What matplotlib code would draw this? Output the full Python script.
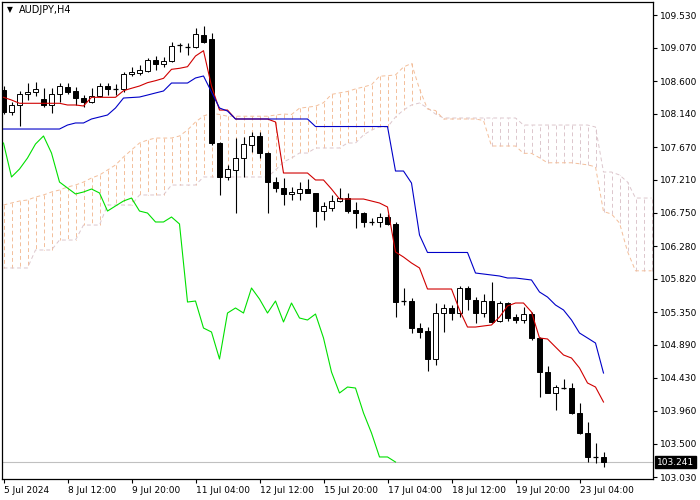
import matplotlib
matplotlib.use("Agg")
import matplotlib.pyplot as plt
import numpy as np

# ---------------- data ----------------
opens = [108.475, 108.165, 108.264, 108.419, 108.447, 108.348, 108.264, 108.419, 108.517, 108.461,
         108.362, 108.306, 108.390, 108.531, 108.489, 108.489, 108.700, 108.714, 108.742, 108.897,
         108.841, 108.883, 109.108, 109.080, 109.080, 109.249, 109.192, 107.729, 107.251, 107.349,
         107.518, 107.701, 107.828, 107.588, 107.180, 107.096, 107.012, 107.026, 107.082, 107.026,
         106.772, 106.815, 106.913, 106.955, 106.787, 106.744, 106.618, 106.618, 106.688, 106.590,
         105.506, 105.506, 105.126, 105.084, 104.690, 105.337, 105.408, 105.337, 105.689, 105.520,
         105.337, 105.506, 105.225, 105.478, 105.281, 105.239, 105.323, 104.986, 104.507, 104.212,
         104.282, 104.282, 103.931, 103.649, 103.312, 103.312]
highs = [108.531, 108.306, 108.461, 108.573, 108.587, 108.503, 108.503, 108.573, 108.573, 108.517,
         108.404, 108.503, 108.573, 108.573, 108.559, 108.728, 108.798, 108.827, 108.925, 108.953,
         108.939, 109.150, 109.136, 109.136, 109.347, 109.375, 109.277, 107.743, 107.420, 107.799,
         107.814, 107.884, 107.884, 107.603, 107.251, 107.237, 107.110, 107.180, 107.223, 107.026,
         106.899, 106.998, 107.096, 107.026, 106.899, 106.758, 106.674, 106.744, 106.730, 106.618,
         105.689, 105.548, 105.197, 105.140, 105.478, 105.464, 105.450, 105.717, 105.717, 105.562,
         105.605, 105.774, 105.506, 105.492, 105.323, 105.422, 105.351, 105.000, 104.592, 104.324,
         104.409, 104.353, 104.071, 103.804, 103.508, 103.382]
lows = [108.137, 108.123, 107.968, 108.334, 108.390, 108.236, 108.151, 108.306, 108.419, 108.264,
        108.236, 108.292, 108.376, 108.404, 108.404, 108.447, 108.672, 108.686, 108.728, 108.756,
        108.798, 108.869, 109.009, 108.967, 109.066, 109.136, 107.701, 106.998, 107.209, 106.744,
        107.251, 107.603, 107.518, 106.744, 107.040, 106.857, 106.927, 106.927, 107.026, 106.547,
        106.646, 106.772, 106.899, 106.744, 106.533, 106.547, 106.575, 106.547, 106.575, 105.281,
        105.450, 105.056, 104.986, 104.521, 104.606, 105.070, 105.239, 105.281, 105.380, 105.197,
        105.281, 105.197, 105.211, 105.225, 105.197, 105.197, 104.958, 104.156, 104.212, 103.973,
        104.268, 103.916, 103.635, 103.241, 103.227, 103.171]
closes = [108.165, 108.264, 108.419, 108.447, 108.489, 108.264, 108.419, 108.531, 108.447, 108.362,
          108.306, 108.390, 108.531, 108.489, 108.482, 108.700, 108.728, 108.756, 108.897, 108.841,
          108.883, 109.094, 109.108, 109.080, 109.263, 109.150, 107.729, 107.251, 107.363, 107.518,
          107.715, 107.828, 107.588, 107.180, 107.096, 107.012, 107.040, 107.082, 107.026, 106.772,
          106.843, 106.913, 106.955, 106.772, 106.744, 106.618, 106.618, 106.688, 106.590, 105.492,
          105.506, 105.126, 105.070, 104.690, 105.337, 105.408, 105.337, 105.689, 105.534, 105.337,
          105.506, 105.211, 105.478, 105.267, 105.239, 105.323, 104.986, 104.507, 104.212, 104.296,
          104.282, 103.931, 103.649, 103.312, 103.312, 103.241]

tenkan = [108.372, 108.334, 108.288, 108.288, 108.288, 108.288, 108.288, 108.288, 108.264, 108.264,
          108.250, 108.372, 108.372, 108.372, 108.372, 108.465, 108.499, 108.531, 108.578, 108.606,
          108.639, 108.766, 108.780, 108.803, 108.953, 109.028, 108.531, 108.193, 108.193, 108.067,
          108.067, 108.067, 108.067, 108.067, 108.025, 107.307, 107.307, 107.307, 107.307, 107.209,
          107.209, 107.082, 106.941, 106.941, 106.941, 106.941, 106.913, 106.885, 106.829, 106.196,
          106.125, 106.041, 105.971, 105.675, 105.675, 105.675, 105.675, 105.380, 105.140, 105.140,
          105.155, 105.169, 105.281, 105.436, 105.478, 105.478, 105.351, 104.986, 104.972, 104.859,
          104.747, 104.704, 104.564, 104.353, 104.296, 104.085]
kijun = [107.926, 107.926, 107.926, 107.926, 107.926, 107.926, 107.926, 107.926, 107.982, 108.011,
         108.011, 108.067, 108.095, 108.123, 108.222, 108.362, 108.369, 108.376, 108.404, 108.433,
         108.461, 108.573, 108.573, 108.573, 108.644, 108.672, 108.447, 108.222, 108.179, 108.067,
         108.067, 108.067, 108.067, 108.067, 108.067, 108.067, 108.067, 108.067, 108.067, 107.961,
         107.961, 107.961, 107.961, 107.961, 107.961, 107.961, 107.961, 107.961, 107.961, 107.335,
         107.335, 107.166, 106.435, 106.189, 106.189, 106.189, 106.189, 106.189, 106.189, 105.900,
         105.886, 105.872, 105.858, 105.830, 105.830, 105.816, 105.802, 105.633, 105.562, 105.450,
         105.380, 105.239, 105.056, 104.986, 104.915, 104.493]
# Chikou span: closes plotted 26 bars back
chikou_shift = 26

span_a = [106.857, 106.885, 106.913, 106.927, 106.969, 106.998, 107.040, 107.068, 107.110, 107.138,
          107.180, 107.237, 107.279, 107.349, 107.420, 107.532, 107.631, 107.729, 107.771, 107.799,
          107.799, 107.799, 107.828, 107.912, 108.025, 108.109, 108.148, 108.130, 108.106, 108.106,
          108.106, 108.106, 108.106, 108.106, 108.123, 108.137, 108.130, 108.219, 108.233, 108.247,
          108.296, 108.413, 108.434, 108.454, 108.490, 108.518, 108.549, 108.669, 108.676, 108.687,
          108.798, 108.849, 108.489, 108.208, 108.186, 108.067, 108.067, 108.067, 108.067, 108.067,
          108.046, 107.687, 107.687, 107.687, 107.687, 107.584, 107.584, 107.521, 107.451, 107.451,
          107.451, 107.451, 107.437, 107.422, 107.394, 106.765, 106.730, 106.604, 106.203, 105.931,
          105.931, 105.931]
span_b = [105.971, 105.971, 105.971, 105.971, 106.224, 106.224, 106.224, 106.364, 106.364, 106.364,
          106.575, 106.575, 106.575, 106.857, 106.857, 106.857, 106.857, 106.998, 106.998, 106.998,
          106.998, 107.138, 107.138, 107.138, 107.138, 107.251, 107.251, 107.251, 107.251, 107.251,
          107.251, 107.251, 107.251, 107.251, 107.349, 107.462, 107.518, 107.588, 107.588, 107.659,
          107.659, 107.659, 107.659, 107.729, 107.729, 107.842, 107.912, 107.954, 107.954, 108.095,
          108.193, 108.264, 108.292, 108.222, 108.137, 108.081, 108.081, 108.081, 108.081, 108.081,
          108.081, 108.081, 108.081, 108.081, 108.081, 107.982, 107.982, 107.982, 107.982, 107.982,
          107.982, 107.982, 107.982, 107.982, 107.954, 107.321, 107.321, 107.279, 107.180, 106.955,
          106.955, 106.955]

y_ticks = [109.530, 109.070, 108.600, 108.140, 107.670, 107.210, 106.750, 106.280,
           105.820, 105.350, 104.890, 104.430, 103.960, 103.500, 103.030]
x_tick_bars = [0, 8, 16, 24, 32, 40, 48, 56, 64, 72]
x_tick_labels = ["5 Jul 2024", "8 Jul 12:00", "9 Jul 20:00", "11 Jul 04:00", "12 Jul 12:00",
                 "15 Jul 20:00", "17 Jul 04:00", "18 Jul 12:00", "19 Jul 20:00", "23 Jul 04:00"]
last_price = 103.241
symbol = "AUDJPY,H4"

# ---------------- drawing ----------------
W, H = 700, 500
fig = plt.figure(figsize=(W / 100, H / 100), dpi=100)
ax = fig.add_axes([2 / W, 21 / H, 651 / W, 477 / H])
ax.set_xlim(-0.1875, 81.1875)
ax.set_ylim(103.002, 109.713)

n = len(opens)
xs = np.arange(n)

# cloud
sa = np.array(span_a)
sb = np.array(span_b)
xc = np.arange(len(sa))
up_col = "#F3BE9A"
dn_col = "#DCC6CC"
dash = (0, (4, 3))
for j in xc:
    col = up_col if sa[j] >= sb[j] else dn_col
    ax.plot([j, j], [sa[j], sb[j]], color=col, lw=0.7, linestyle=dash, zorder=1)
ax.plot(xc, sb, color=dn_col, lw=0.7, linestyle=dash, zorder=1)
ax.plot(xc, sa, color=up_col, lw=0.7, linestyle=dash, zorder=1)

# current price line
ax.axhline(last_price, color="#C0C0C0", lw=0.8, zorder=1.5)

# candles
o = np.array(opens); c = np.array(closes); h = np.array(highs); l = np.array(lows)
ax.vlines(xs, l, h, color="black", lw=0.8, zorder=2)
bw = 0.6
for i in range(n):
    lo, hi = min(o[i], c[i]), max(o[i], c[i])
    if hi - lo < 0.01:
        ax.hlines(c[i], i - bw / 2, i + bw / 2, color="black", lw=0.9, zorder=3)
    else:
        fc = "white" if c[i] > o[i] else "black"
        ax.bar(i, hi - lo, bottom=lo, width=bw, facecolor=fc, edgecolor="black",
               linewidth=0.7, zorder=3)

# indicator lines
ax.plot(xs, tenkan, color="#D00000", lw=0.8, zorder=4)
ax.plot(xs, kijun, color="#0000C8", lw=0.8, zorder=4)
ax.plot(xs[:n - chikou_shift], closes[chikou_shift:], color="#00E000", lw=0.8, zorder=4)

# axes styling
for s in ax.spines.values():
    s.set_color("black")
    s.set_linewidth(0.9)
ax.yaxis.tick_right()
ax.set_yticks(y_ticks)
ax.set_yticklabels([f"{v:.3f}" for v in y_ticks])
ax.set_xticks(x_tick_bars)
ax.set_xticklabels(x_tick_labels, ha="left")
ax.tick_params(axis="y", direction="out", length=3, width=0.8, labelsize=6.5, pad=2, colors="black")
ax.tick_params(axis="x", direction="out", length=3, width=0.8, labelsize=6.5, pad=2, colors="black")

ax.annotate(f"{last_price:.3f}", xy=(1.0, last_price), xycoords=("axes fraction", "data"),
            xytext=(3, 0), textcoords="offset points", va="center", ha="left",
            fontsize=6.5, color="white",
            bbox=dict(boxstyle="square,pad=0.2", facecolor="black", edgecolor="black"))

fig.text(7 / W, 1 - 10 / H, "\u25BC", fontsize=5.5, va="center", ha="left", color="black")
fig.text(19 / W, 1 - 10 / H, symbol, fontsize=7, va="center", ha="left", color="black")

fig.savefig("out.png", dpi=100)
